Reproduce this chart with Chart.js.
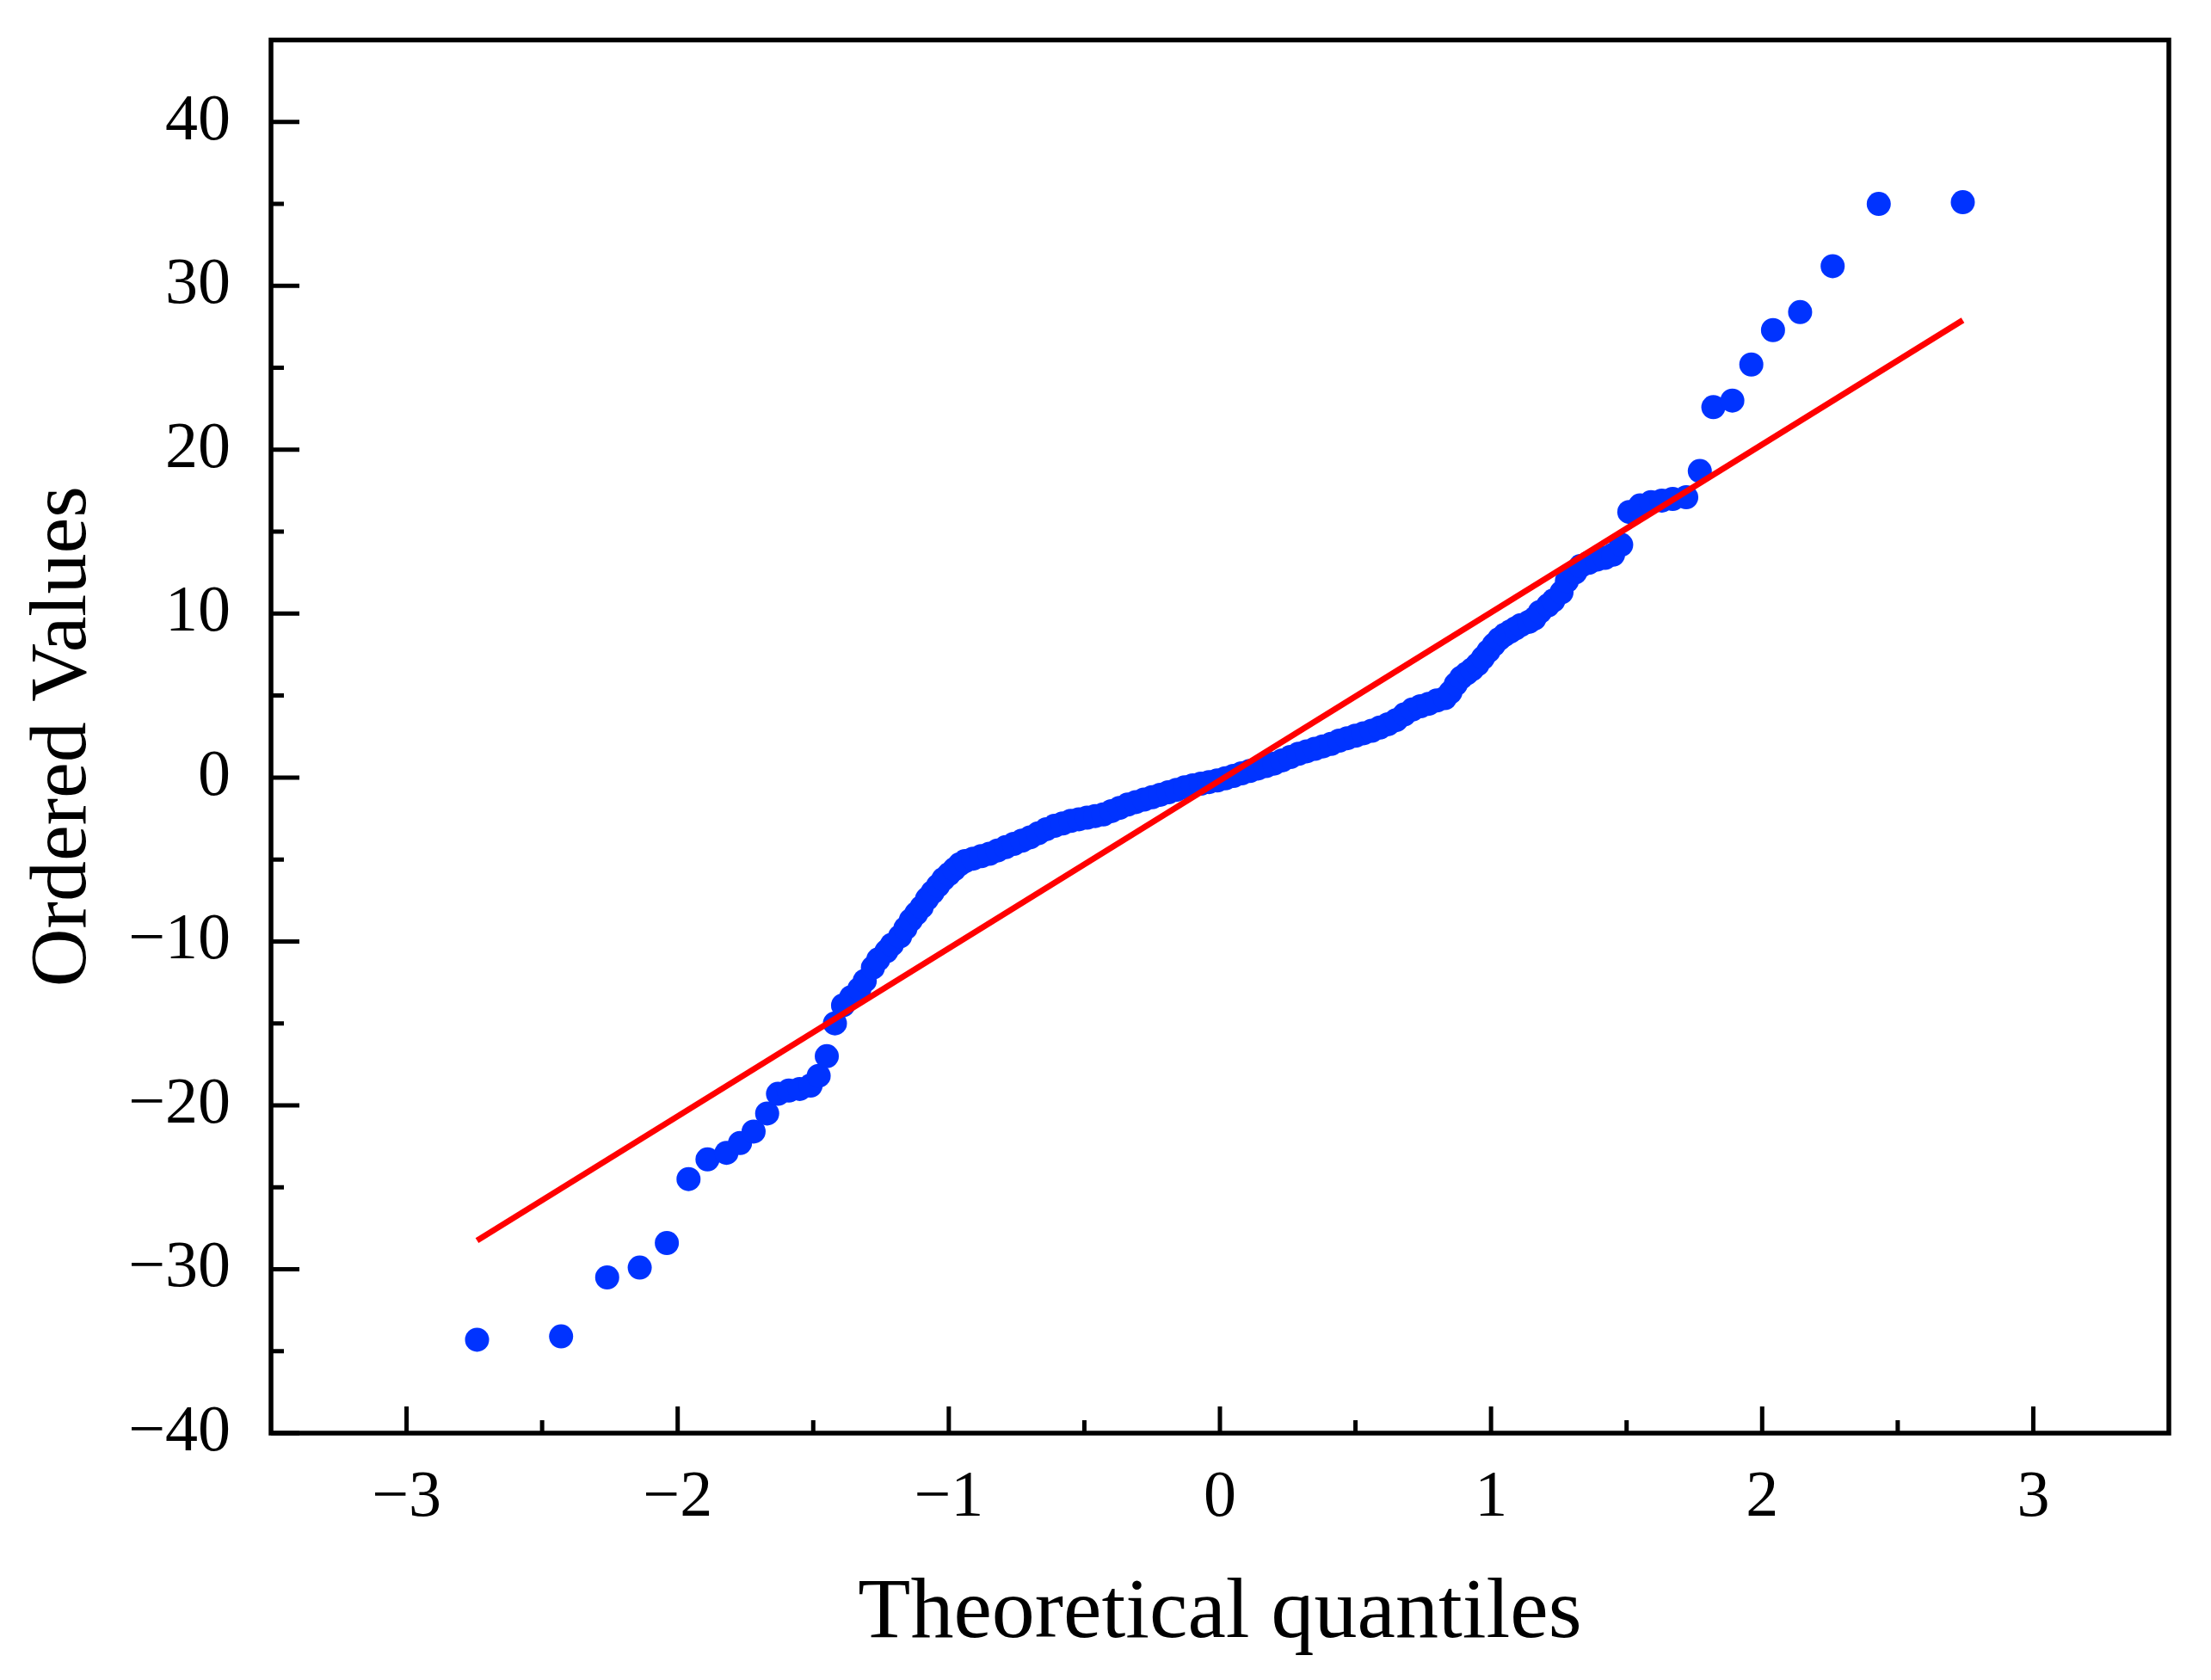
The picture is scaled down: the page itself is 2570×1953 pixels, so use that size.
<!DOCTYPE html>
<html>
<head>
<meta charset="utf-8">
<script src="https://cdn.jsdelivr.net/npm/chart.js@4.4.1/dist/chart.umd.min.js"></script>
<style>
  html, body { margin: 0; padding: 0; background: #fff; }
  #qq { display: block; }
</style>
</head>
<body>
<canvas id="qq" width="2570" height="1953" style="width:2570px;height:1953px"></canvas>
<script>
// theoretical quantiles (x) and ordered values (y)
const quantiles = [
  -2.74, -2.43, -2.26, -2.14, -2.04, -1.96, -1.89, -1.82, -1.77, -1.72,
  -1.67, -1.63, -1.59, -1.55, -1.51, -1.48, -1.45, -1.42, -1.39, -1.36,
  -1.33, -1.31, -1.28, -1.26, -1.23, -1.21, -1.18, -1.16, -1.14, -1.12,
  -1.10, -1.08, -1.06, -1.04, -1.02, -1.00, -0.98, -0.96, -0.94, -0.91,
  -0.88, -0.85, -0.82, -0.79, -0.76, -0.73, -0.70, -0.67, -0.64, -0.61,
  -0.58, -0.55, -0.52, -0.49, -0.46, -0.43, -0.40, -0.37, -0.34, -0.31,
  -0.28, -0.25, -0.22, -0.19, -0.16, -0.13, -0.10, -0.07, -0.04, -0.01,
  0.02, 0.05, 0.08, 0.11, 0.14, 0.17, 0.20, 0.23, 0.26, 0.29,
  0.32, 0.35, 0.38, 0.41, 0.44, 0.47, 0.50, 0.53, 0.56, 0.59,
  0.62, 0.65, 0.68, 0.71, 0.74, 0.77, 0.80, 0.83, 0.85, 0.87,
  0.89, 0.91, 0.93, 0.95, 0.97, 0.99, 1.01, 1.03, 1.05, 1.07,
  1.09, 1.11, 1.14, 1.16, 1.18, 1.21, 1.23, 1.26, 1.28, 1.31,
  1.33, 1.36, 1.39, 1.42, 1.45, 1.48, 1.51, 1.55, 1.59, 1.63,
  1.67, 1.72, 1.77, 1.82, 1.89, 1.96, 2.04, 2.14, 2.26, 2.43,
  2.74
];
const orderedValues = [
  -34.3, -34.1, -30.5, -29.9, -28.4, -24.5, -23.3, -22.9, -22.3, -21.6,
  -20.5, -19.3, -19.1, -19.0, -18.8, -18.2, -17.0, -15.0, -13.9, -13.4,
  -12.9, -12.4, -11.6, -11.1, -10.6, -10.2, -9.7, -9.2, -8.7, -8.3,
  -7.9, -7.4, -7.0, -6.6, -6.2, -5.9, -5.6, -5.3, -5.1, -4.95,
  -4.8, -4.65, -4.45, -4.25, -4.05, -3.85, -3.65, -3.4, -3.15, -2.95,
  -2.8, -2.65, -2.55, -2.45, -2.35, -2.25, -2.05, -1.85, -1.65, -1.5,
  -1.35, -1.2, -1.05, -0.9, -0.75, -0.6, -0.48, -0.38, -0.28, -0.18,
  -0.05, 0.1, 0.25, 0.4, 0.55, 0.7, 0.85, 1.05, 1.25, 1.45,
  1.6, 1.75, 1.9, 2.05, 2.25, 2.4, 2.55, 2.7, 2.85, 3.05,
  3.25, 3.5, 3.85, 4.15, 4.35, 4.5, 4.7, 4.85, 5.2, 5.7,
  6.1, 6.35, 6.6, 6.9, 7.3, 7.7, 8.1, 8.45, 8.7, 8.9,
  9.1, 9.3, 9.5, 9.7, 10.1, 10.5, 10.8, 11.3, 12.0, 12.5,
  12.9, 13.1, 13.3, 13.4, 13.6, 14.2, 16.2, 16.6, 16.8, 16.9,
  17.0, 17.1, 18.7, 22.6, 23.0, 25.2, 27.3, 28.4, 31.2, 35.0,
  35.1
];

// fitted reference line end points
const fitX = [-2.74, 2.74];
const fitY = [-28.25, 27.9];

// tick positions
const xTicks = [-3, -2, -1, 0, 1, 2, 3];
const xMinor = [-2.5, -1.5, -0.5, 0.5, 1.5, 2.5];
const yTicks = [-40, -30, -20, -10, 0, 10, 20, 30, 40];
const yMinor = [-35, -25, -15, -5, 5, 15, 25, 35];

const serif = 'Liberation Serif';
Chart.defaults.font.family = serif;
Chart.defaults.color = '#000';

function fmt(v) {
    return v < 0 ? '\u2212' + Math.abs(v) : String(v);
}

// box around the plot with ticks pointing inwards
const frameTicks = {
    id: 'frameTicks',
    afterDatasetsDraw(chart) {
        const {ctx, chartArea: a, scales: {x, y}} = chart;
        ctx.save();
        ctx.strokeStyle = '#000';
        ctx.lineWidth = 5;
        ctx.beginPath();
        xTicks.forEach(v => { const p = x.getPixelForValue(v); ctx.moveTo(p, a.bottom); ctx.lineTo(p, a.bottom - 31); });
        xMinor.forEach(v => { const p = x.getPixelForValue(v); ctx.moveTo(p, a.bottom); ctx.lineTo(p, a.bottom - 15); });
        yTicks.forEach(v => { const p = y.getPixelForValue(v); ctx.moveTo(a.left, p); ctx.lineTo(a.left + 33, p); });
        yMinor.forEach(v => { const p = y.getPixelForValue(v); ctx.moveTo(a.left, p); ctx.lineTo(a.left + 15, p); });
        ctx.stroke();
        ctx.lineWidth = 5.5;
        ctx.strokeRect(a.left, a.top, a.right - a.left, a.bottom - a.top);
        ctx.restore();
    }
};

const points = quantiles.map((q, i) => ({x: q, y: orderedValues[i]}));
const fitLine = fitX.map((q, i) => ({x: q, y: fitY[i]}));

new Chart(document.getElementById('qq').getContext('2d'), {
    type: 'scatter',
    data: {
        datasets: [
            {
                label: 'Ordered Values',
                data: points,
                backgroundColor: '#0033ff',
                borderWidth: 0,
                pointRadius: 14,
                order: 2
            },
            {
                type: 'line',
                label: 'fit',
                data: fitLine,
                borderColor: '#ff0000',
                borderWidth: 7,
                pointRadius: 0,
                fill: false,
                order: 1
            }
        ]
    },
    options: {
        responsive: false,
        devicePixelRatio: 1,
        animation: false,
        layout: { padding: { top: 46.5, right: 49, left: 0, bottom: 0 } },
        plugins: {
            legend: { display: false },
            tooltip: { enabled: false }
        },
        scales: {
            x: {
                type: 'linear',
                min: -3.5,
                max: 3.5,
                afterBuildTicks: s => { s.ticks = xTicks.map(v => ({value: v})); },
                afterFit: s => { s.height = 1953 - 1666; s.paddingLeft = 0; s.paddingRight = 0; },
                grid: { display: false },
                border: { display: false },
                ticks: {
                    padding: 22,
                    maxRotation: 0,
                    font: { size: 76, family: serif },
                    color: '#000',
                    callback: fmt
                },
                title: {
                    display: true,
                    text: 'Theoretical quantiles',
                    font: { size: 100, family: serif },
                    color: '#000',
                    padding: { top: 0, bottom: 16 }
                }
            },
            y: {
                type: 'linear',
                min: -40,
                max: 45,
                afterBuildTicks: s => { s.ticks = yTicks.map(v => ({value: v})); },
                afterFit: s => { s.width = 315; s.paddingTop = 0; s.paddingBottom = 0; },
                grid: { display: false },
                border: { display: false },
                ticks: {
                    padding: 39,
                    font: { size: 76, family: serif },
                    color: '#000',
                    callback: fmt
                },
                title: {
                    display: true,
                    text: 'Ordered Values',
                    font: { size: 94, family: serif },
                    color: '#000',
                    padding: { top: 18, bottom: 0 }
                }
            }
        }
    },
    plugins: [frameTicks]
});
</script>
</body>
</html>
